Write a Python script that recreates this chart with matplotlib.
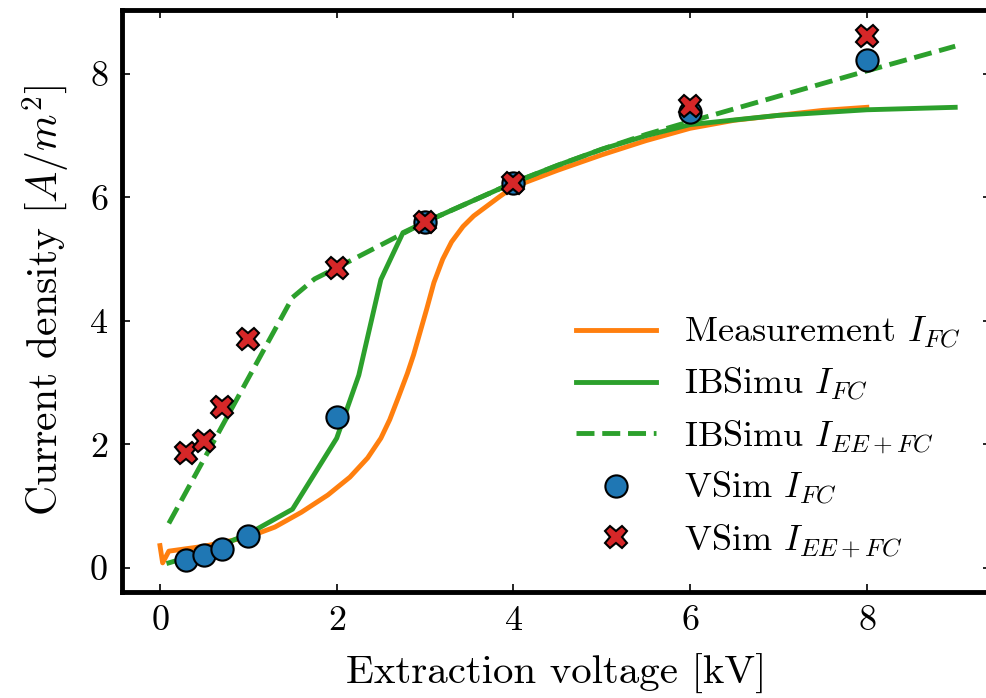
import matplotlib
matplotlib.use('Agg')
import matplotlib.pyplot as plt
import numpy as np

plt.rcParams['font.family'] = 'serif'
plt.rcParams['font.serif'] = ['cmr10']
plt.rcParams['mathtext.fontset'] = 'cm'
plt.rcParams['axes.formatter.use_mathtext'] = True
plt.rcParams['axes.unicode_minus'] = False

# Faraday cup measurement
meas_v = [0.0, 0.03, 0.1, 0.5, 1.0, 1.3, 1.6, 1.9, 2.15, 2.35, 2.5, 2.6, 2.7, 2.8, 2.87, 2.94,
          3.02, 3.1, 3.2, 3.3, 3.43, 3.55, 3.7, 3.85, 4.0, 4.5, 5.0, 5.5, 6.0, 6.5, 7.0, 7.5, 8.0]
meas_j = [0.36, 0.08, 0.27, 0.35, 0.5, 0.66, 0.9, 1.18, 1.47, 1.78, 2.1, 2.4, 2.77, 3.15, 3.45, 3.8,
          4.2, 4.62, 5.0, 5.28, 5.53, 5.7, 5.86, 6.02, 6.17, 6.44, 6.69, 6.92, 7.12, 7.25, 7.33, 7.41, 7.46]

# IBSimu, Faraday cup current only
ibs_fc_v = [0.1, 0.5, 1.0, 1.5, 2.0, 2.25, 2.5, 2.75, 3.0, 4.0, 4.5, 5.0, 5.5, 6.0, 7.0, 8.0, 9.0]
ibs_fc_j = [0.08, 0.25, 0.55, 0.95, 2.1, 3.12, 4.67, 5.43, 5.6, 6.24, 6.52, 6.78, 7.0, 7.18, 7.33, 7.42, 7.46]

# IBSimu, extraction electrode + Faraday cup
ibs_tot_v = [0.1, 1.5, 1.75, 2.0, 3.0, 4.0, 4.5, 5.0, 5.5, 6.0, 7.0, 8.0, 9.0]
ibs_tot_j = [0.72, 4.38, 4.68, 4.86, 5.6, 6.24, 6.52, 6.78, 7.02, 7.23, 7.64, 8.05, 8.45]

# VSim points
vsim_v = [0.3, 0.5, 0.7, 1.0, 2.0, 3.0, 4.0, 6.0, 8.0]
vsim_fc = [0.12, 0.21, 0.31, 0.52, 2.45, 5.6, 6.24, 7.38, 8.22]
vsim_tot = [1.86, 2.05, 2.61, 3.71, 4.86, 5.6, 6.24, 7.48, 8.61]

fig = plt.figure(figsize=(9.87, 6.98), dpi=100)
ax = fig.add_axes([0.1236, 0.152, 0.88, 0.834])

lw = 3.5
ax.plot(meas_v, meas_j, color='#ff7f0e', lw=lw, label=r'Measurement $I_{FC}$', zorder=2)
ax.plot(ibs_fc_v, ibs_fc_j, color='#2ca02c', lw=lw, label=r'IBSimu $I_{FC}$', zorder=3)
ax.plot(ibs_tot_v, ibs_tot_j, color='#2ca02c', lw=lw, ls='--', label=r'IBSimu $I_{EE+FC}$', zorder=3)
ax.plot(vsim_v, vsim_fc, ls='none', marker='o', ms=16, mfc='#1f77b4', mec='k', mew=1.5,
        label=r'VSim $I_{FC}$', zorder=4)
ax.plot(vsim_v, vsim_tot, ls='none', marker='X', ms=16, mfc='#d62728', mec='k', mew=1.5,
        label=r'VSim $I_{EE+FC}$', zorder=5)

ax.set_xlim(-0.43, 9.4)
ax.set_ylim(-0.39, 9.04)
ax.set_xticks([0, 2, 4, 6, 8])
ax.set_yticks([0, 2, 4, 6, 8])
ax.tick_params(direction='in', length=6, width=1.2, top=True, right=True, labelsize=26, pad=10)
for sp in ax.spines.values():
    sp.set_linewidth(3.5)

ax.set_xlabel('Extraction voltage [kV]', fontsize=29.5, labelpad=12)
ax.set_ylabel(r'Current density $[A/m^2]$', fontsize=30, labelpad=12)

ax.legend(loc='lower right', frameon=False, fontsize=26, handlelength=2.2,
          labelspacing=0.42, bbox_to_anchor=(1.004, 0.0))

fig.savefig('out.png', dpi=100)
